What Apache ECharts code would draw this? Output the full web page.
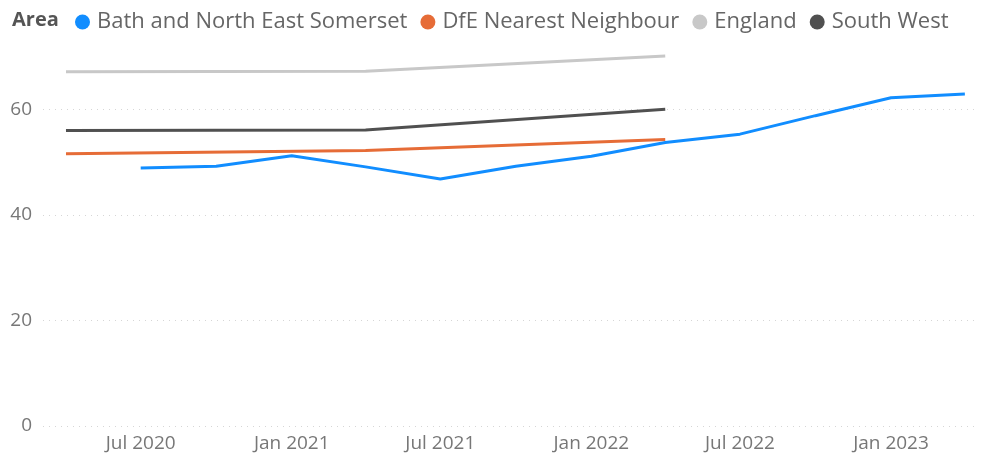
<!DOCTYPE html>
<html><head><meta charset="utf-8">
<script src="https://cdn.jsdelivr.net/npm/echarts@6/dist/echarts.min.js"></script>
<style>html,body{margin:0;padding:0;background:#fff}#c{width:982px;height:460px}</style>
</head><body><div id="c"></div>
<script>
// Quarterly series (Bath and North East Somerset)
const quarterDates = ['2020-07-01','2020-10-01','2021-01-01','2021-04-01','2021-07-01','2021-10-01','2022-01-01','2022-04-01','2022-07-01','2022-10-01','2023-01-01','2023-04-01'];
const bathValues = [48.9, 49.2, 51.2, 49.1, 46.8, 49.2, 51.1, 53.7, 55.3, 58.8, 62.2, 62.9];
// Annual series
const annualDates = ['2020-04-01','2021-04-01','2022-04-01'];
const nearestValues = [51.6, 52.2, 54.3];
const englandValues = [67.1, 67.2, 70.1];
const southWestValues = [56.0, 56.1, 60.0];
const seriesNames = ['Bath and North East Somerset','DfE Nearest Neighbour','England','South West'];
const xTickDates = ['2020-07-01','2021-01-01','2021-07-01','2022-01-01','2022-07-01','2023-01-01'];
const monthNames = ['Jan','Feb','Mar','Apr','May','Jun','Jul','Aug','Sep','Oct','Nov','Dec'];

function ts(s){const p=s.split('-').map(Number);return new Date(p[0],p[1]-1,p[2]).getTime();}
function pairs(d,v){return d.map((x,i)=>[ts(x),v[i]]);}

const colors = ['#118DFF','#E66C37','#C8C8C8','#505050'];
const font = '"Open Sans", "Noto Sans", sans-serif';
const chart = echarts.init(document.getElementById('c'));
const lineSeries = (name, data, color) => ({
  name, type:'line', data, symbol:'none', showSymbol:false,
  lineStyle:{width:3,color}, itemStyle:{color}, emphasis:{disabled:true}, clip:false
});
chart.setOption({
  animation:false,
  textStyle:{fontFamily:font},
  title:{text:'Area', left:7, top:5, textStyle:{fontFamily:font,fontSize:20,fontWeight:'bold',color:'#555'}},
  legend:{
    left:70, top:6, icon:'circle', itemWidth:15, itemHeight:15, itemGap:13,
    textStyle:{fontFamily:font,fontSize:22,color:'#666',padding:[0,0,0,2]},
    data:seriesNames
  },
  grid:{left:43, right:4, top:46, bottom:34},
  xAxis:{
    type:'value',
    min:ts('2020-03-04'), max:ts('2023-04-17'),
    axisLine:{show:false}, axisTick:{show:false}, splitLine:{show:false},
    axisLabel:{
      customValues: xTickDates.map(ts),
      formatter:(v)=>{const d=new Date(v);return monthNames[d.getMonth()]+' '+d.getFullYear();},
      color:'#777', fontSize:19, margin:8, fontFamily:font
    }
  },
  yAxis:{
    type:'value', min:0, max:72, interval:20,
    axisLine:{show:false}, axisTick:{show:false},
    axisLabel:{color:'#777', fontSize:19, margin:11, showMaxLabel:false, fontFamily:font},
    splitLine:{show:true, showMaxLine:false, lineStyle:{color:'#d6d6d6', type:[1,5], width:1}}
  },
  series:[
    lineSeries(seriesNames[0], pairs(quarterDates,bathValues), colors[0]),
    lineSeries(seriesNames[1], pairs(annualDates,nearestValues), colors[1]),
    lineSeries(seriesNames[2], pairs(annualDates,englandValues), colors[2]),
    lineSeries(seriesNames[3], pairs(annualDates,southWestValues), colors[3])
  ]
});
</script></body></html>
